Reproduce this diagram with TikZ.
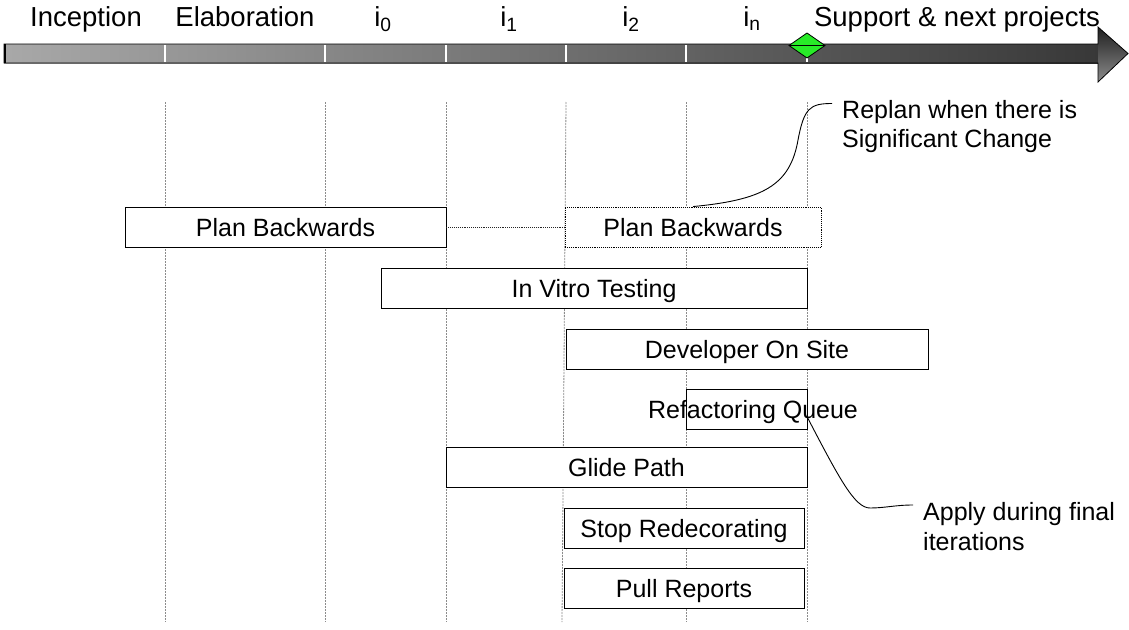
\documentclass[tikz,border=0pt]{standalone}
\usepackage{fontspec}
\setmainfont{Liberation Sans}
\definecolor{msgreen}{RGB}{40,235,40}
\begin{document}
\begin{tikzpicture}[x=1pt,y=-1pt,
  box/.style={draw=black, line width=0.9pt, fill=white, inner sep=0pt, minimum height=40pt,
              text height=23pt, text depth=5pt, font=\fontsize{25}{29}\selectfont},
  plain/.style={inner sep=0pt, text height=23pt, text depth=5pt, font=\fontsize{25}{29}\selectfont},
  toplabel/.style={anchor=base, inner sep=0pt, font=\fontsize{27.5}{30}\selectfont},
  gridline/.style={draw=black!45, line width=0.8pt, dash pattern=on 2pt off 1pt},
  callout/.style={align=left, anchor=north west, inner sep=0pt, font=\fontsize{25}{29}\selectfont},
  leader/.style={draw=black, line width=0.9pt},
  link/.style={draw=black!85, line width=0.9pt, densely dotted},
  divider/.style={draw=white, line width=1.6pt},
]
\useasboundingbox (0,0) rectangle (1129,629);

% timeline arrow
\shade[left color=black!34, right color=black!78] (4,44) rectangle (1098,63);
\shade[top color=black!88, bottom color=black!45] (1098,27) -- (1128,53.5) -- (1098,82) -- cycle;
\draw[black, line width=0.8pt] (4,44) -- (1098,44) -- (1098,27) -- (1128,53.5) -- (1098,82) -- (1098,63) -- (4,63) -- cycle;
\draw[black, line width=2.2pt] (5,44) -- (5,63);
\foreach \x in {165,325,446,566,686} \draw[divider] (\x,45) -- (\x,62);
\draw[divider] (807,58) -- (807,62);
\draw[black, line width=0.8pt, fill=msgreen] (789,45.5) -- (807,33) -- (825,45.5) -- (807,58) -- cycle;
\draw[black, line width=0.8pt] (789,45.5) -- (825,45.5);

% phase labels
\node[toplabel] (inc) at (86,27) {Inception};
\node[toplabel] (ela) at (245,27) {Elaboration};
\node[toplabel] (i0) at (383,27) {i\textsubscript{0}};
\node[toplabel] (i1) at (509,27) {i\textsubscript{1}};
\node[toplabel] (i2) at (631,27) {i\textsubscript{2}};
\node[toplabel] (in) at (752,27) {i\textsubscript{n}};
\node[toplabel] (sup) at (957,27) {Support \& next projects};

% grid lines
\foreach \x in {165,325,446,686,807} \draw[gridline] (\x,102) -- (\x,622);
\draw[gridline] (566,102) -- (562,622);

% activity boxes
\node[box, minimum width=321pt] (pb1) at (285.5,227) {Plan Backwards};
\node[box, minimum width=256pt, densely dotted] (pb2) at (693,227) {Plan Backwards};
\draw[link] (pb1.east) -- (pb2.west);
\node[box, minimum width=426pt] (ivt) at (594,288) {In Vitro Testing};
\node[box, minimum width=362pt] (dev) at (747,349) {Developer On Site};
\node[box, minimum width=121pt] (rq) at (746.5,409.5) {};
\node[plain] (rqt) at (753,409.5) {Refactoring Queue};
\node[box, minimum width=361pt] (gp) at (626.5,467) {Glide Path};
\node[box, minimum width=240pt] (sr) at (684,528) {Stop Redecorating};
\node[box, minimum width=240pt] (pr) at (684,588) {Pull Reports};

% callouts
\node[callout] (replan) at (842,100) {Replan when there is\\Significant Change};
\coordinate (rpEnd) at (832,103.5);
\draw[leader] (pb2.north) .. controls (762,200) and (790,186) .. (798,140)
   .. controls (804,108) and (810,103.5) .. (rpEnd);

\node[callout, font=\fontsize{25}{30}\selectfont] (apply) at (923,502) {Apply during final\\iterations};
\coordinate (apEnd) at (913,505);
\draw[leader] ([yshift=-8pt]rq.east) .. controls (840,480) and (855,508) .. (870,508)
   .. controls (885,508) and (895,505) .. (apEnd);
\end{tikzpicture}
\end{document}
